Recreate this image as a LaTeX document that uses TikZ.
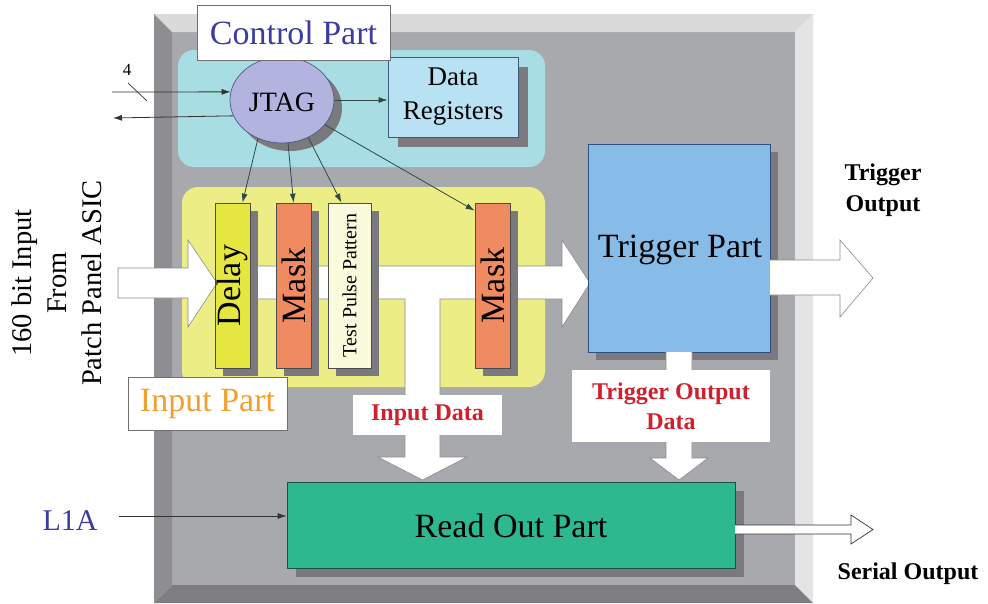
\documentclass[tikz,border=0pt]{standalone}
\usepackage{fontspec}
\setmainfont{Liberation Serif}
\usetikzlibrary{shapes.geometric,shadows,arrows.meta}
\definecolor{face}{HTML}{A8A9AD}
\definecolor{bevtop}{HTML}{DADADA}
\definecolor{bevleft}{HTML}{8E8E92}
\definecolor{bevright}{HTML}{E4E4E4}
\definecolor{bevbot}{HTML}{7E7E82}
\definecolor{shadowgray}{HTML}{7A7A7E}
\definecolor{cyanreg}{HTML}{A8DDE4}
\definecolor{yellowreg}{HTML}{EDED85}
\definecolor{jtagfill}{HTML}{B3B3E0}
\definecolor{jtagline}{HTML}{4A5A8A}
\definecolor{dregfill}{HTML}{B8E2F4}
\definecolor{delayfill}{HTML}{E6E640}
\definecolor{maskfill}{HTML}{F08A60}
\definecolor{tppfill}{HTML}{FAFADC}
\definecolor{trigfill}{HTML}{88BCE8}
\definecolor{readfill}{HTML}{2EB890}
\definecolor{ctrlblue}{HTML}{3C3CA0}
\definecolor{inorange}{HTML}{F0A030}
\definecolor{datared}{HTML}{D0202E}
\definecolor{conline}{HTML}{2F4848}
\definecolor{flowedge}{HTML}{8A8A8A}
\definecolor{labeledge}{HTML}{707070}
\begin{document}
\begin{tikzpicture}[x=1pt,y=-1pt,
  shd/.style={drop shadow={shadow xshift=#1,shadow yshift=-#1,fill=shadowgray,opacity=1}},
  shd/.default=8pt,
  region/.style={rectangle,rounded corners=16pt,draw=none,inner sep=0pt},
  blk/.style={rectangle,inner sep=0pt,line width=0.7pt},
  lbox/.style={rectangle,fill=white,draw=labeledge,line width=0.6pt,inner sep=0pt},
  flow/.style={fill=white,draw=flowedge,line width=0.6pt,line join=miter},
  jarr/.style={draw=conline,line width=0.8pt,-{Latex[length=9pt,width=6pt]}},
  karr/.style={draw=black!80,line width=0.8pt,-{Latex[length=9pt,width=6pt]}},
  big/.style={font=\fontsize{34}{40}\selectfont},
  mid/.style={font=\fontsize{27}{34}\selectfont},
  bold/.style={font=\bfseries\fontsize{24}{31}\selectfont}]
\useasboundingbox (0,0) rectangle (988,603);
\fill[white] (0,0) rectangle (988,603);
% frame
\fill[face] (172,32) rectangle (795,585);
\fill[bevtop] (154,14) -- (813,14) -- (795,32) -- (172,32) -- cycle;
\fill[bevleft] (154,14) -- (172,32) -- (172,585) -- (154,603) -- cycle;
\fill[bevright] (813,14) -- (813,603) -- (795,585) -- (795,32) -- cycle;
\fill[bevbot] (154,603) -- (172,585) -- (795,585) -- (813,603) -- cycle;
% regions
\node[region,fill=cyanreg,minimum width=367pt,minimum height=117pt] (ctrlreg) at (361.5,108.5) {};
\node[region,fill=yellowreg,minimum width=363pt,minimum height=200pt] (inreg) at (363.5,287) {};
% input arrow
\draw[flow] (118,268) -- (188,268) -- (188,240) -- (217,283) -- (188,327) -- (188,298) -- (118,298) -- cycle;
% main data band with T branch
\draw[flow] (230,266) -- (562,266) -- (562,240) -- (590,283) -- (562,327) -- (562,299) -- (440,299) -- (440,457) -- (467,457) -- (422.5,480) -- (378,457) -- (405,457) -- (405,299) -- (230,299) -- cycle;
% bars
\node[blk,shd,fill=delayfill,draw=black!70,minimum width=35pt,minimum height=165pt] (delay) at (232.5,285.5) {};
\node[blk,shd,fill=maskfill,draw=black!70,minimum width=35pt,minimum height=165pt] (mask1) at (293.5,285.5) {};
\node[blk,shd,fill=tppfill,draw=black!70,minimum width=43pt,minimum height=165pt] (tpp) at (349.5,285.5) {};
\node[blk,shd,fill=maskfill,draw=black!70,minimum width=35pt,minimum height=165pt] (mask2) at (492.5,285.5) {};
\node[big,rotate=90] (delaylbl) at (delay.center) {Delay};
\node[big,rotate=90] (mask1lbl) at (mask1.center) {Mask};
\node[font=\fontsize{20}{24}\selectfont,rotate=90] (tpplbl) at (tpp.center) {Test Pulse Pattern};
\node[big,rotate=90] (mask2lbl) at (mask2.center) {Mask};
% trigger part
\node[blk,shd,fill=trigfill,draw={rgb,255:red,46;green,78;blue,126},minimum width=182pt,minimum height=208pt] (trig) at (679,248) {};
\node[big] (triglbl) at (680,250) {Trigger Part};
\draw[flow] (770,260) -- (840,260) -- (840,240) -- (873,278) -- (840,317) -- (840,295) -- (770,295);
\draw[flow] (666,352) -- (666,458) -- (650,458) -- (679,480) -- (708,458) -- (692,458) -- (692,352);
% labels of data
\node[lbox,draw=none,minimum width=149pt,minimum height=40pt] (indata) at (427.5,415) {};
\node[font=\bfseries\fontsize{24}{31}\selectfont,text=datared] at (indata.center) {Input Data};
\node[lbox,draw=none,minimum width=198pt,minimum height=72pt] (toutdata) at (671,406) {};
\node[font=\bfseries\fontsize{24}{30}\selectfont,text=datared,align=center] at (toutdata.center) {Trigger Output\\Data};
% read out
\node[blk,shd=9pt,fill=readfill,draw={rgb,255:red,30;green,80;blue,64},minimum width=448pt,minimum height=86pt] (readout) at (511,525) {};
\node[big] (readlbl) at (511,526) {Read Out Part};
\draw[fill=white,draw=black!80,line width=0.7pt] (735,525) -- (851,525) -- (851,515) -- (873,529.5) -- (851,544) -- (851,534) -- (735,534);
% L1A
\node[font=\fontsize{30}{36}\selectfont,text=ctrlblue] (l1a) at (70,521) {L1A};
\coordinate (l1ain) at (119,516);
\draw[karr] (l1ain) -- (readout.west |- l1ain);
% outside labels
\node[bold,text=black,align=center] (trigout) at (883,190) {Trigger\\Output};
\node[bold,text=black] (serout) at (908,574) {Serial Output};
\node[rotate=90,align=center,font=\fontsize{28.5}{35}\selectfont] (src) at (57,283) {160 bit Input\\From\\Patch Panel ASIC};
% control part
\node[ellipse,shd,fill=jtagfill,draw=jtagline,line width=0.7pt,minimum width=104pt,minimum height=86pt,inner sep=0pt] (jtag) at (282,100) {};
\node[font=\fontsize{28}{34}\selectfont] (jtaglbl) at (282,102) {JTAG};
\node[blk,shd=10pt,fill=dregfill,draw={rgb,255:red,58;green,90;blue,122},minimum width=130pt,minimum height=80pt] (dreg) at (453,97) {};
\node[mid,align=center] (dreglbl) at (dreg.center) {Data\\Registers};
\draw[jarr] (jtag.east) -- (dreg.west |- jtag.east);
\draw[jarr] (jtag.-122) -- ([xshift=10pt]delay.north);
\draw[jarr] (jtag.-82) -- (mask1.north);
\draw[jarr] (jtag.-55) -- ([xshift=-8pt]tpp.north);
\draw[jarr] (jtag.-30) -- ([yshift=-8pt]mask2.north west);
\coordinate (in4) at (112,92);
\coordinate (out4) at (113,118);
\draw[karr] (in4) -- (jtag.171);
\draw[karr] (jtag.198) -- (out4);
\draw[black!80,line width=0.7pt] (128,83) -- (147,101);
\node[font=\fontsize{17}{20}\selectfont] (four) at (127,70) {4};
\node[lbox,minimum width=193pt,minimum height=55pt] (ctrllbl) at (293.5,32.5) {};
\node[big,text=ctrlblue] at (ctrllbl.center) {Control Part};
\node[lbox,minimum width=159pt,minimum height=53pt] (inlbl) at (207.5,403.5) {};
\node[big,text=inorange] at (inlbl.center) {Input Part};
\end{tikzpicture}
\end{document}
